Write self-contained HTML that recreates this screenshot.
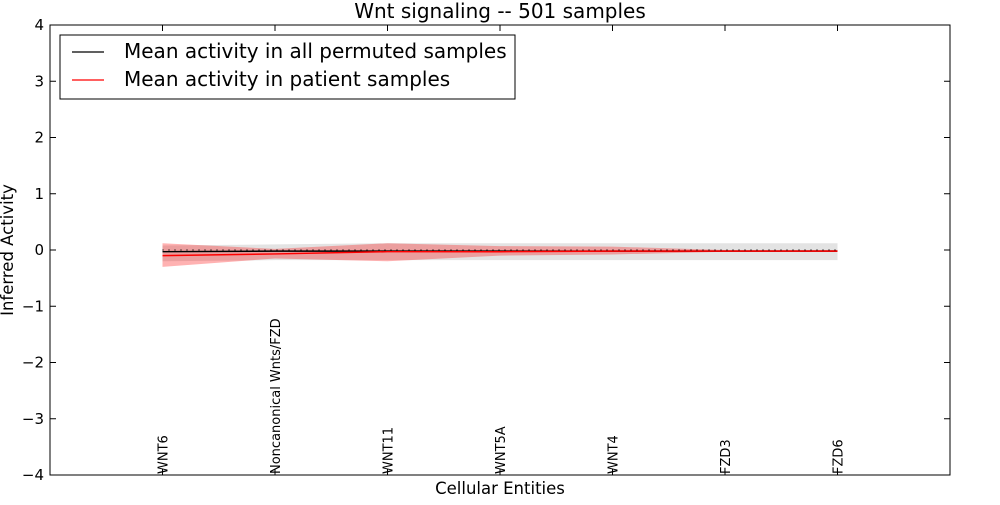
<!DOCTYPE html>
<html><head><meta charset="utf-8"><style>
body{margin:0;background:#fff;font-family:"Liberation Sans","DejaVu Sans",sans-serif}
svg text{font-family:"DejaVu Sans","Liberation Sans",sans-serif}
</style></head><body>
<svg id="chart" width="1000" height="500" xmlns="http://www.w3.org/2000/svg">
<rect width="1000" height="500" fill="#fff"/>
<g id="plot"></g>
<rect x="50" y="25" width="900" height="450" fill="none" stroke="#000" stroke-width="1"/>
<g id="axes"></g>
<text x="500" y="18" font-size="20" text-anchor="middle">Wnt signaling -- 501 samples</text>
<text x="500" y="494" font-size="16.5" text-anchor="middle">Cellular Entities</text>
<text transform="translate(13,250) rotate(-90)" font-size="16.5" text-anchor="middle">Inferred Activity</text>
<g>
<rect x="60" y="35" width="455" height="64" fill="#fff" stroke="#000"/>
<line x1="72" y1="52" x2="104" y2="52" stroke="#000" stroke-width="1.2"/>
<text x="124" y="58" font-size="20">Mean activity in all permuted samples</text>
<line x1="72" y1="80" x2="104" y2="80" stroke="#f00" stroke-width="1.2"/>
<text x="124" y="86" font-size="20">Mean activity in patient samples</text>
</g>
</svg>
<script>
const categories=["WNT6","Noncanonical Wnts/FZD","WNT11","WNT5A","WNT4","FZD3","FZD6"];
const permMean=[-0.03,-0.02,-0.02,-0.02,-0.02,-0.02,-0.02];
const permLow=[-0.2,-0.18,-0.18,-0.18,-0.18,-0.18,-0.18];
const permHigh=[0.08,0.1,0.12,0.12,0.12,0.12,0.12];
const patMean=[-0.1,-0.07,-0.03,-0.03,-0.02,-0.02,-0.02];
const patLow=[-0.3,-0.15,-0.2,-0.1,-0.08,-0.03,-0.02];
const patHigh=[0.12,0.02,0.12,0.07,0.06,0.0,0.0];
const yTicks=[-4,-3,-2,-1,0,1,2,3,4];
const NS="http://www.w3.org/2000/svg";
const X=i=>50+(i+1)*112.5;
const Y=v=>250-v*56.25;
const plot=document.getElementById('plot'),axes=document.getElementById('axes');
function mk(t,a,p){const e=document.createElementNS(NS,t);for(const k in a)e.setAttribute(k,a[k]);(p||plot).appendChild(e);return e;}
function band(lo,hi,fill,op,name){
 let d=hi.map((v,i)=>(i?'L':'M')+X(i)+','+Y(v)).join('')+lo.map((v,i)=>i).reverse().map(i=>'L'+X(i)+','+Y(lo[i])).join('')+'Z';
 const e=mk('path',{d:d,fill:fill,'fill-opacity':op});
 
 
}
function line(vals,stroke,name,extra){
 const e=mk('polyline',Object.assign({points:vals.map((v,i)=>X(i)+','+Y(v)).join(' '),fill:'none',stroke:stroke,'stroke-width':1.5},extra||{}));
 
 
}
band(permLow,permHigh,'#c8c8c8',0.5,'permuted-band');
band(patLow,patHigh,'#f00',0.3,'patient-band');
line(permMean,'#000','permuted-mean-line');
line(patMean,'#f00','patient-mean-line');
const z=mk('line',{x1:X(0),x2:X(categories.length-1),y1:Y(0),y2:Y(0),stroke:'#000','stroke-dasharray':'1,5','stroke-width':1.2});


yTicks.forEach(v=>{
 mk('line',{x1:50,x2:56,y1:Y(v),y2:Y(v),stroke:'#000'},axes);
 mk('line',{x1:944,x2:950,y1:Y(v),y2:Y(v),stroke:'#000'},axes);
 const t=mk('text',{x:44,y:Y(v)+5,'font-size':15,'text-anchor':'end'},axes);
 t.textContent=(v<0?'\u2212':'')+Math.abs(v);
 
 
});
categories.forEach((c,i)=>{
 mk('line',{x1:X(i),x2:X(i),y1:475,y2:469,stroke:'#000'},axes);
 mk('line',{x1:X(i),x2:X(i),y1:25,y2:31,stroke:'#000'},axes);
 const t=mk('text',{transform:`translate(${X(i)+5},474) rotate(-90)`,'font-size':13},axes);
 t.textContent=c;
 
 
});
</script>
</body></html>
